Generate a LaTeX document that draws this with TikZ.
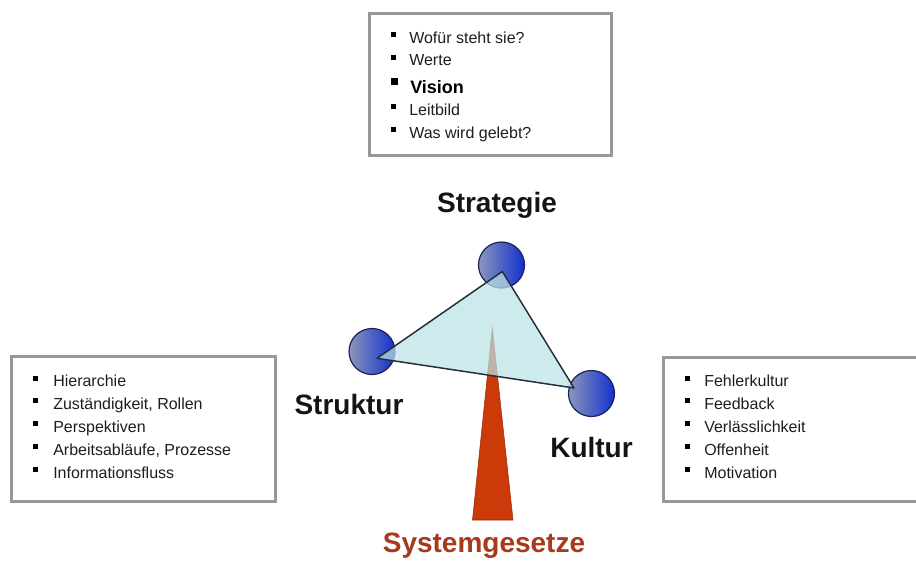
\documentclass[tikz,border=0pt]{standalone}
\usepackage{fontspec}
\setmainfont{Liberation Sans}
\definecolor{boxgray}{RGB}{152,152,152}
\definecolor{itemtxt}{RGB}{30,30,30}
\definecolor{lbltxt}{RGB}{20,20,20}
\definecolor{sysred}{RGB}{165,58,28}
\definecolor{ballL}{RGB}{140,150,188}
\definecolor{ballR}{RGB}{18,48,205}
\definecolor{ballEdge}{RGB}{25,35,90}
\definecolor{triFill}{RGB}{186,226,230}
\definecolor{triEdge}{RGB}{35,45,60}
\definecolor{wedgeRed}{RGB}{205,58,10}
\definecolor{wedgeEdge}{RGB}{150,40,10}
\tikzset{
  boxframe/.style={draw=boxgray, line width=2.25pt},
  item/.style={anchor=base west, inner sep=0pt, font=\fontsize{12}{14}\selectfont, text=itemtxt},
  bul/.style={rectangle, fill=black, draw=none, minimum size=3.75pt, inner sep=0pt},
  bigbul/.style={rectangle, fill=black, draw=none, minimum size=5.25pt, inner sep=0pt},
  lbl/.style={anchor=base, inner sep=0pt, font=\fontsize{21}{25}\selectfont\bfseries, text=lbltxt},
  ball/.style={circle, minimum size=34.5pt, inner sep=0pt, draw=ballEdge, line width=0.9pt,
               left color=ballL, right color=ballR},
  tri/.style={fill=triFill, fill opacity=0.72, draw=triEdge, draw opacity=1, line width=1.1pt, line join=round},
  wedge/.style={fill=wedgeRed, draw=wedgeEdge, line width=0.4pt},
}
\begin{document}
\begin{tikzpicture}[x=0.75pt, y=-0.75pt]
\clip (0,0) rectangle (916,561);
\fill[white] (0,0) rectangle (916,561);

% boxes
\draw[boxframe] (369,13) rectangle (611,155);
\draw[boxframe] (11,356) rectangle (275,501);
\draw[boxframe] (663,357) rectangle (930,501);

% top box items
\node[bul] (tb1) at (393,34.5) {};
\node[item] (tt1) at (409,43) {Wofür steht sie?};
\node[bul] (tb2) at (393,57.2) {};
\node[item] (tt2) at (409,65.7) {Werte};
\node[bigbul] (tb3) at (394,81.7) {};
\node[item, font=\fontsize{13.5}{16}\selectfont\bfseries, text=black] (tt3) at (410,93.3) {Vision};
\node[bul] (tb4) at (393,106.5) {};
\node[item] (tt4) at (409,115) {Leitbild};
\node[bul] (tb5) at (393,129.8) {};
\node[item] (tt5) at (409,138.3) {Was wird gelebt?};

% left box items
\foreach \t [count=\i] in {Hierarchie, {Zuständigkeit, Rollen}, Perspektiven, {Arbeitsabläufe, Prozesse}, Informationsfluss}{
  \pgfmathsetmacro{\yy}{386.7+(\i-1)*22.85}
  \node[bul] (lb\i) at (35,\yy-8.6) {};
  \node[item] (lt\i) at (53,\yy) {\t};
}

% right box items
\foreach \t [count=\i] in {Fehlerkultur, Feedback, Verlässlichkeit, Offenheit, Motivation}{
  \pgfmathsetmacro{\yy}{386.7+(\i-1)*22.85}
  \node[bul] (rb\i) at (687,\yy-8.6) {};
  \node[item] (rt\i) at (704,\yy) {\t};
}

% wedge (behind triangle)
\coordinate (wTop) at (492.3,328);
\coordinate (wBL) at (472.5,520);
\coordinate (wBR) at (513,520);
\draw[wedge] (wTop) -- (wBR) -- (wBL) -- cycle;

% balls
\node[ball] (bTop) at (501.5,265) {};
\node[ball] (bLeft) at (372,351.5) {};
\node[ball] (bRight) at (591.5,393.5) {};

% triangle
\coordinate (tT) at (502.3,271.5);
\coordinate (tL) at (377,358.3);
\coordinate (tR) at (574,388);
\draw[tri] (tT) -- (tL) -- (tR) -- cycle;

% labels
\node[lbl] (strategie) at (497,212) {Strategie};
\node[lbl] (struktur) at (349,414) {Struktur};
\node[lbl] (kultur) at (591.5,457) {Kultur};
\node[lbl, text=sysred] (sysg) at (484,552) {Systemgesetze};
\end{tikzpicture}
\end{document}
